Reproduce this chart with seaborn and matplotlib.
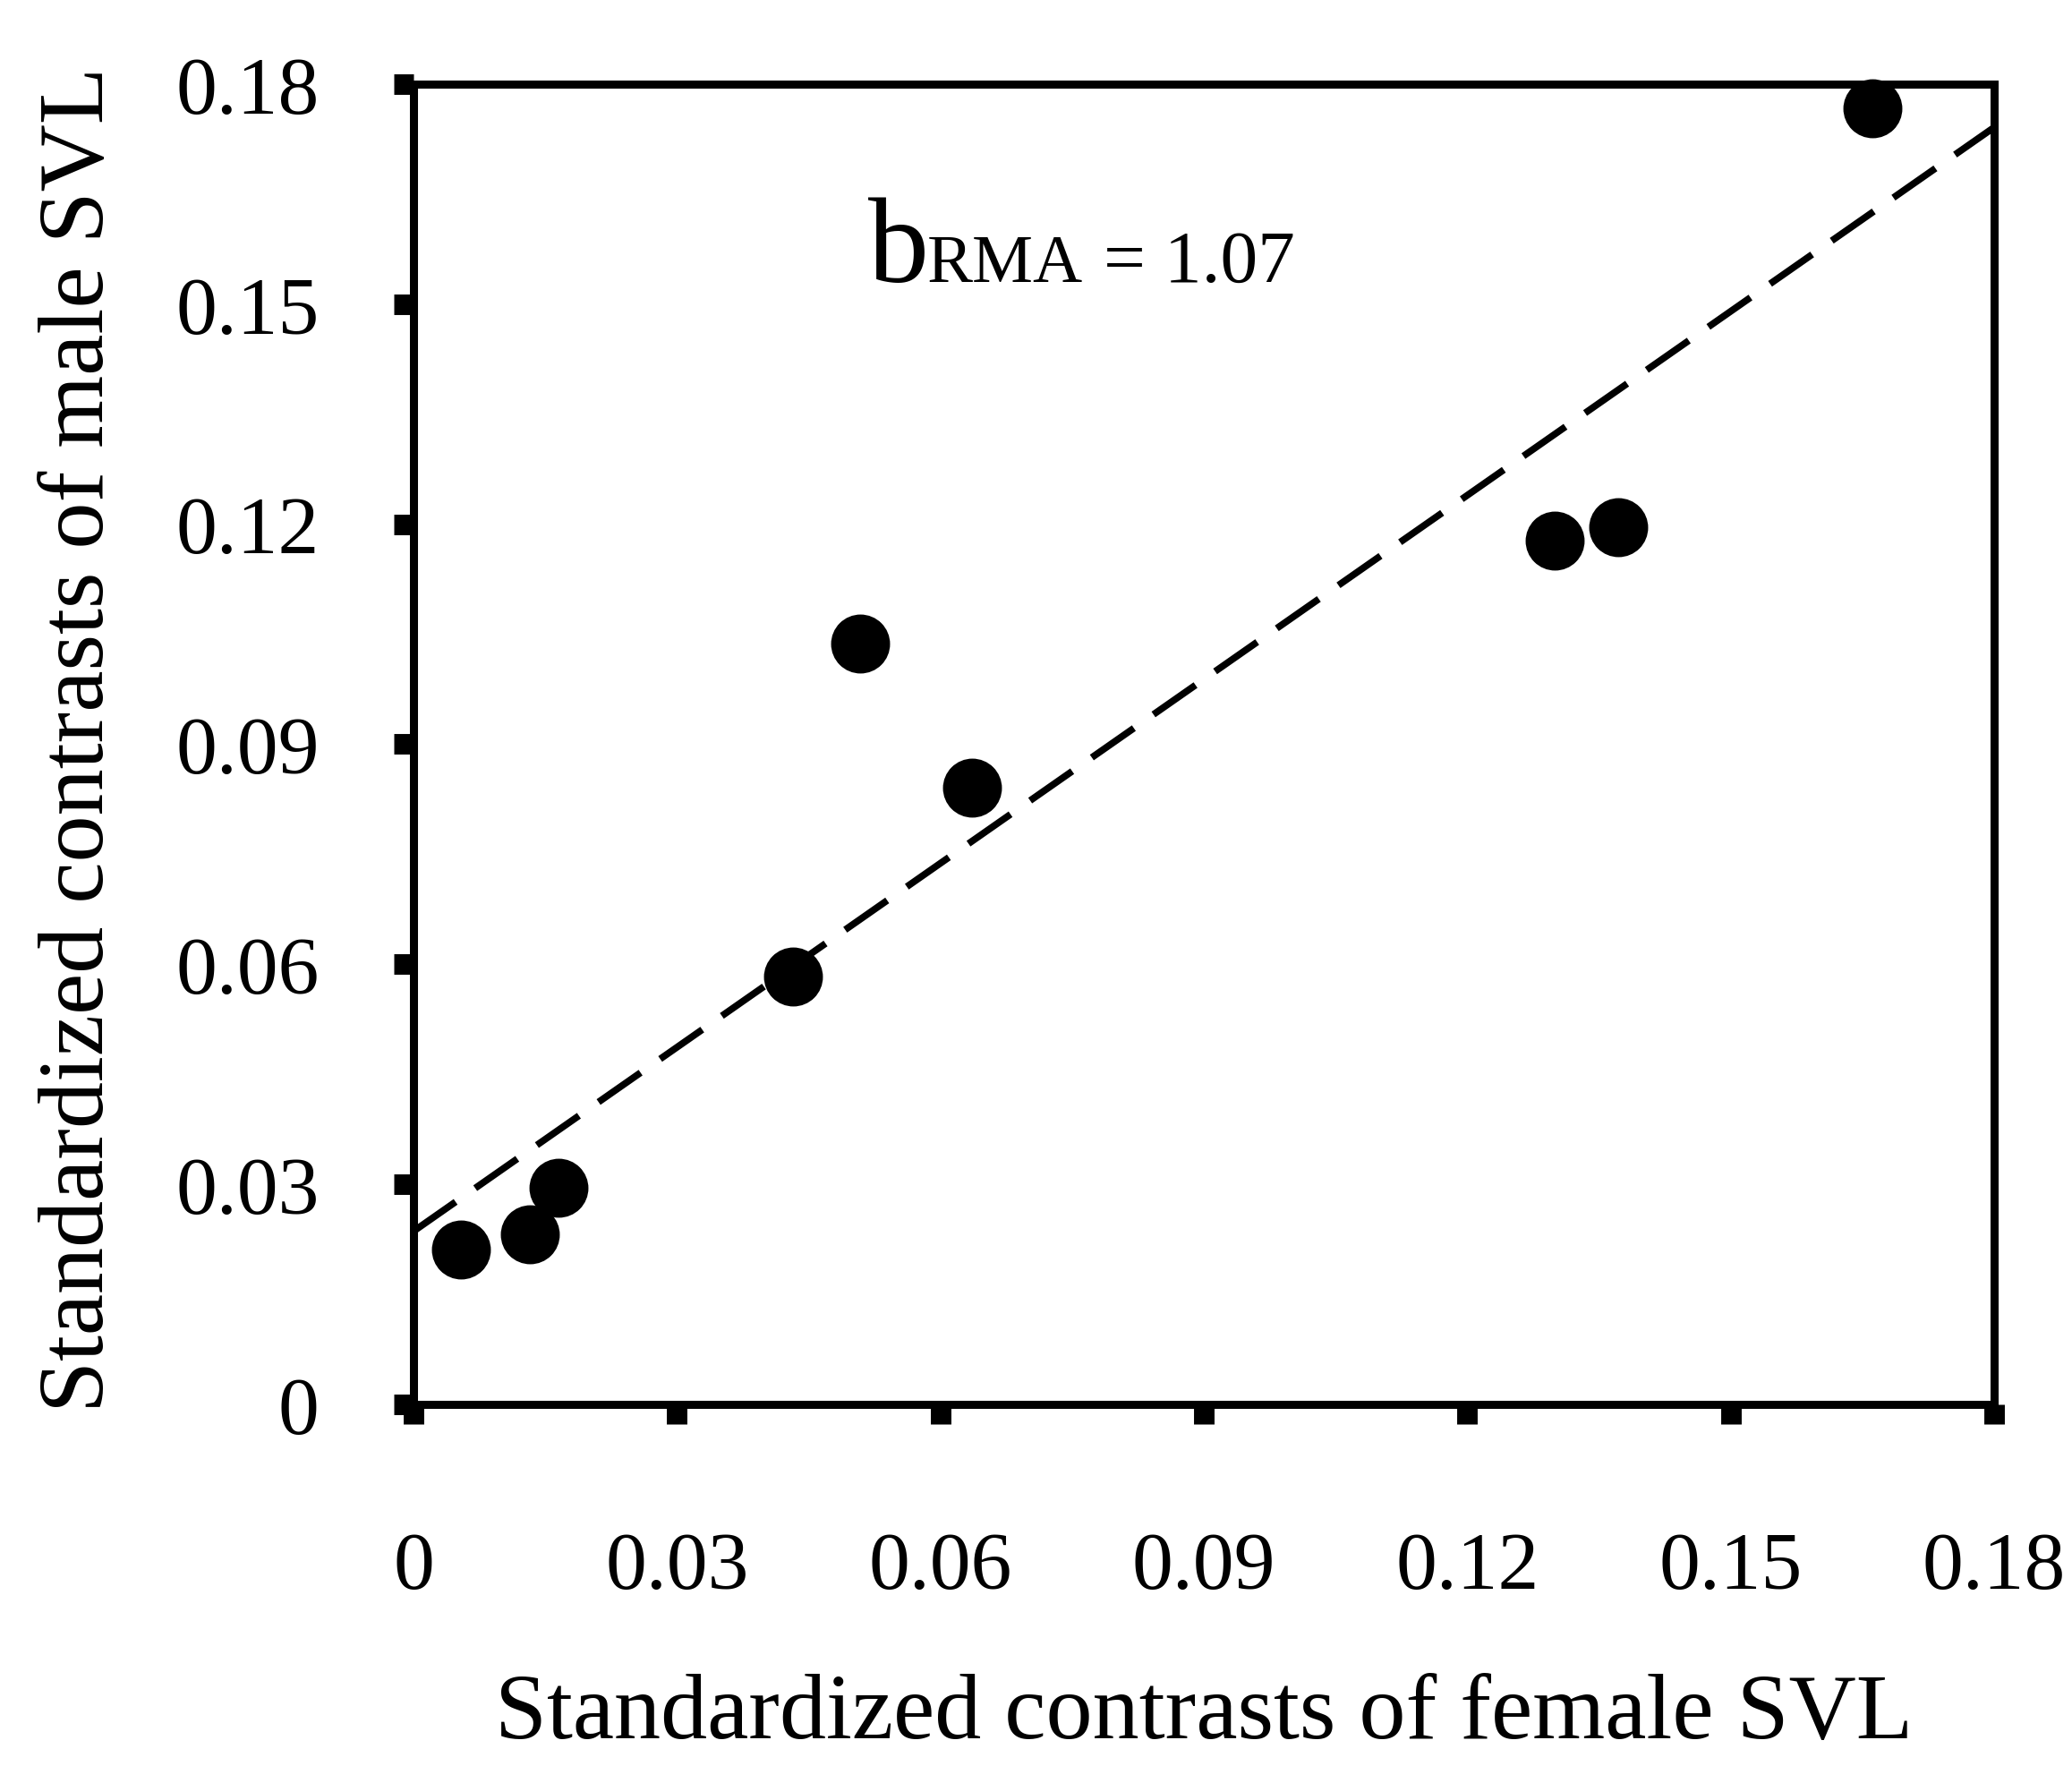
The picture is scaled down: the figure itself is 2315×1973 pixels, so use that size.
import numpy as np
import pandas as pd
import matplotlib
matplotlib.use("Agg")
import matplotlib.pyplot as plt
import seaborn as sns

# ---- data ----
female_svl = [0.0054, 0.0132, 0.0165, 0.0432, 0.0509, 0.0636, 0.1300, 0.1372, 0.1661]
male_svl = [0.0211, 0.0232, 0.0295, 0.0583, 0.1037, 0.0841, 0.1178, 0.1196, 0.1767]
line_x = [0.0, 0.18]
line_y = [0.0236, 0.1741]
ticks = [0, 0.03, 0.06, 0.09, 0.12, 0.15, 0.18]
tick_labels = ["0", "0.03", "0.06", "0.09", "0.12", "0.15", "0.18"]
xlabel = "Standardized contrasts of female SVL"
ylabel = "Standardized contrasts of male SVL"

df = pd.DataFrame({"female": female_svl, "male": male_svl})

sns.set_theme(style="white")
plt.rcParams["font.family"] = ["Liberation Serif", "DejaVu Serif"]

fig = plt.figure(figsize=(23.15, 19.74), dpi=100)
ax = fig.add_axes([0.1996, 0.2047, 0.9624 - 0.1996, 0.9519 - 0.2047])

sns.lineplot(x=line_x, y=line_y, ax=ax, color="black", linewidth=5.5, sort=False)
ax.lines[-1].set_dashes((7.5, 3.5))
ax.lines[-1].set_dash_capstyle("butt")

sns.scatterplot(data=df, x="female", y="male", ax=ax, color="black",
                s=2250, edgecolor="black", linewidth=0, zorder=3, clip_on=False)

ax.set_xlim(0, 0.18)
ax.set_ylim(0, 0.18)
ax.set_xticks(ticks)
ax.set_xticklabels(tick_labels)
ax.set_yticks(ticks)
ax.set_yticklabels(tick_labels)

for sp in ax.spines.values():
    sp.set_visible(True)
    sp.set_color("black")
    sp.set_linewidth(6.5)

ax.tick_params(axis="both", which="major", direction="out", length=16, width=16.5,
               color="black", labelsize=66, labelcolor="black")
ax.tick_params(axis="y", pad=60, left=True)
ax.tick_params(axis="x", pad=86, bottom=True)

ax.set_xlabel(xlabel, fontsize=75, color="black")
ax.set_ylabel(ylabel, fontsize=75, color="black")
ax.xaxis.set_label_coords(0.5, -0.2034)
ax.yaxis.set_label_coords(-0.184, 0.504)

ax.grid(False)

# annotation b_RMA = 1.07
ax.text(0.2877, 0.851, "b", transform=ax.transAxes, fontsize=98, va="baseline", ha="left", color="black")
ax.text(0.325, 0.851, "RMA", transform=ax.transAxes, fontsize=55, va="baseline", ha="left", color="black")
ax.text(0.4366, 0.851, "= 1.07", transform=ax.transAxes, fontsize=60, va="baseline", ha="left", color="black")

fig.savefig("out.png", dpi=100, facecolor="white")
